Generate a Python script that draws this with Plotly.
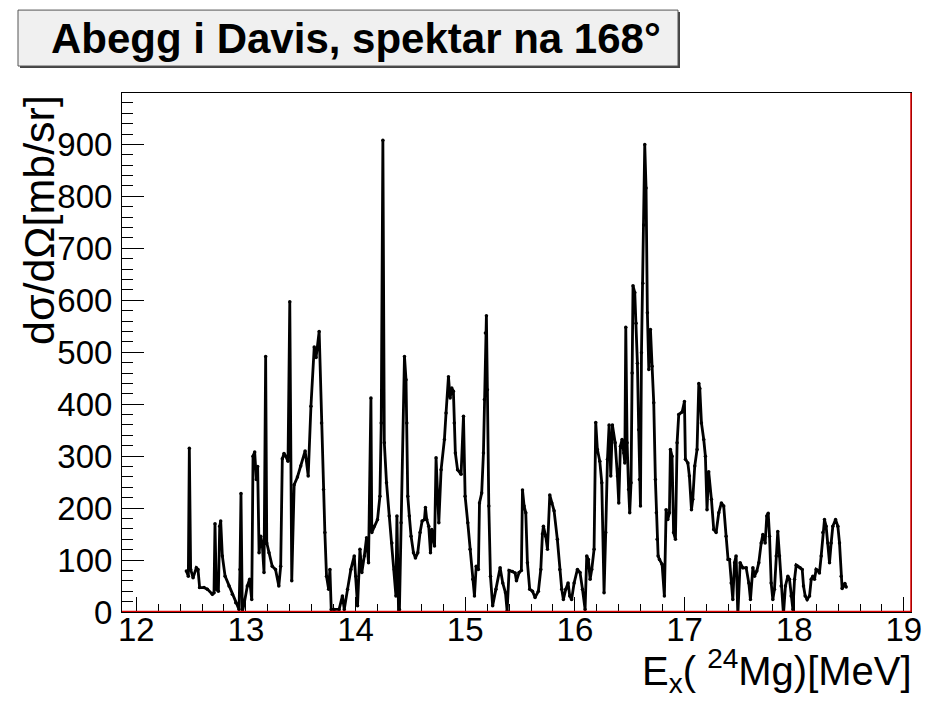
import plotly.graph_objects as go

# ---- data ----
energy = [
    12.457, 12.475, 12.484, 12.496, 12.518, 12.548, 12.563, 12.578, 12.618, 12.648,
    12.694, 12.709, 12.718, 12.73, 12.749, 12.761, 12.77, 12.785, 12.81, 12.846,
    12.876, 12.907, 12.937, 12.946, 12.955, 12.967, 12.983, 13.013, 13.034, 13.053,
    13.065, 13.08, 13.095, 13.107, 13.12, 13.135, 13.15, 13.165, 13.18, 13.19,
    13.21, 13.24, 13.27, 13.30, 13.317, 13.332, 13.347, 13.363, 13.384, 13.40,
    13.418, 13.44, 13.47, 13.50, 13.54, 13.568, 13.593, 13.623, 13.64, 13.668,
    13.69, 13.708, 13.72, 13.735, 13.754, 13.766, 13.778, 13.805, 13.85, 13.88,
    13.897, 13.927, 13.957, 13.988, 14.003, 14.018, 14.04, 14.057, 14.08, 14.1,
    14.118, 14.14, 14.148, 14.17, 14.2, 14.222, 14.234, 14.249, 14.262, 14.282,
    14.307, 14.331, 14.353, 14.368, 14.377, 14.392,
    14.40, 14.415, 14.446, 14.46, 14.467, 14.476, 14.49, 14.506, 14.528, 14.546,
    14.567, 14.588, 14.607, 14.628, 14.637, 14.649, 14.667, 14.683, 14.695, 14.72,
    14.734, 14.759, 14.78, 14.81, 14.825, 14.847, 14.862, 14.877, 14.892, 14.90,
    14.91, 14.93, 14.962, 14.984, 14.999, 15.023, 15.044, 15.069, 15.084, 15.10,
    15.12, 15.13, 15.15, 15.166, 15.175, 15.184, 15.193, 15.202, 15.215, 15.23,
    15.25, 15.28, 15.318, 15.342, 15.367, 15.382,
    15.40, 15.43, 15.455, 15.467, 15.491, 15.512, 15.522, 15.537, 15.552, 15.567,
    15.588, 15.613, 15.637, 15.667, 15.689, 15.704, 15.713, 15.734, 15.75, 15.771,
    15.789, 15.81, 15.84, 15.862, 15.88, 15.895, 15.917, 15.938, 15.953, 15.97,
    15.993, 16.023, 16.047, 16.069, 16.093, 16.108, 16.123, 16.139, 16.154, 16.175,
    16.19, 16.205, 16.227, 16.245, 16.266, 16.281, 16.297, 16.312, 16.327, 16.342,
    16.367, 16.388,
    16.40, 16.415, 16.43, 16.446, 16.455, 16.464, 16.476, 16.49, 16.50, 16.512,
    16.522, 16.53, 16.546, 16.558, 16.57, 16.582, 16.589, 16.598, 16.607, 16.619,
    16.628, 16.637, 16.649, 16.661, 16.674, 16.689, 16.704, 16.719, 16.734, 16.743,
    16.75, 16.759, 16.771, 16.795, 16.816, 16.832, 16.847, 16.862, 16.871, 16.886,
    16.90, 16.917, 16.932, 16.947, 16.978, 16.999, 17.008, 17.03, 17.044, 17.063,
    17.075, 17.093, 17.114, 17.13, 17.139, 17.154, 17.175, 17.19, 17.205, 17.22,
    17.245, 17.266, 17.288, 17.312, 17.336, 17.357, 17.379, 17.397,
    17.41, 17.425, 17.44, 17.456, 17.47, 17.486, 17.507, 17.532, 17.562, 17.586,
    17.601, 17.623, 17.638, 17.659, 17.677, 17.699, 17.714, 17.735, 17.75, 17.763,
    17.775, 17.79, 17.805, 17.82, 17.836, 17.85, 17.866, 17.881, 17.902, 17.92,
    17.942, 17.957, 17.972, 17.988, 18.003, 18.018, 18.033, 18.054, 18.073, 18.085,
    18.10, 18.118, 18.14, 18.155, 18.17, 18.185, 18.20, 18.215, 18.23, 18.246,
    18.261, 18.276, 18.291, 18.307, 18.322, 18.337, 18.352, 18.377, 18.398, 18.413,
    18.428, 18.437, 18.45, 18.462, 18.474,
]
sigma = [
    79, 69, 315, 82, 66, 85, 82, 47, 47, 44,
    34, 37, 170, 44, 40, 165, 175, 108, 69, 50,
    34, 18, 5, 82, 228, 0, 15, 50, 63, 24,
    300, 308, 255, 280, 114, 146, 127, 76, 492, 133,
    114, 88, 82, 50, 88, 295, 305, 300, 290, 597,
    60, 245, 260, 281, 310, 262, 396, 510, 490, 540,
    364, 236, 153, 69, 44, 82, 5, 5, 5, 31,
    5, 44, 82, 108, 69, 12, 121, 76, 108, 143,
    95, 412, 153, 165, 178, 223, 364, 908, 326, 249,
    185, 133, 82, 31, 185, 0,
    5, 172, 492, 447, 364, 223, 185, 146, 114, 104,
    114, 153, 175, 178, 201, 178, 165, 114, 159, 127,
    297, 172, 274, 332, 383, 453, 412, 431, 425, 364,
    306, 274, 265, 377, 223, 172, 121, 63, 31, 88,
    82, 210, 229, 306, 409, 537, 570, 428, 204, 69,
    12, 44, 85, 56, 37, 2,
    80, 78, 75, 60, 76, 80, 235, 204, 191, 95,
    44, 40, 28, 40, 82, 150, 165, 146, 121, 225,
    210, 195, 140, 82, 44, 24, 44, 56, 31, 24,
    56, 82, 76, 44, 5, 108, 101, 63, 82, 121,
    365, 313, 290, 249, 37, 153, 294, 360, 262, 360,
    326, 262,
    210, 319, 332, 306, 287, 548, 326, 236, 191, 249,
    460, 628, 615, 556, 479, 351, 255, 204, 499, 633,
    745, 900, 816, 576, 467, 544, 473, 403, 255, 191,
    140, 108, 101, 92, 31, 197, 178, 191, 313, 300,
    153, 140, 326, 380, 385, 405, 294, 287, 262, 197,
    217, 281, 313, 440, 430, 364, 332, 300, 197, 270,
    217, 159, 153, 191, 210, 204, 146, 101,
    101, 56, 24, 95, 108, -5, 95, 85, 85, 56,
    24, 85, 69, 79, 95, 133, 149, 133, 185, 190,
    146, 56, 24, 44, 108, 155, 108, 50, -5, 50,
    69, 63, 31, 5, 63, 90, 88, 85, 82, 50,
    31, 24, 31, 63, 69, 63, 82, 80, 75, 108,
    153, 178, 165, 133, 95, 133, 165, 178, 165, 133,
    69, 45, 50, 55, 48,
]

title_text = "Abegg i Davis, spektar na 168°"
y_title = "dσ/dΩ[mb/sr]"
x_title = "E<sub>x</sub>( <sup>24</sup>Mg)[MeV]"

W, H = 925, 708
L, R, T, B = 122, 911, 93, 612.5
FONT = "Liberation Sans, Arial, Helvetica, sans-serif"


def px(xp):  # screen x pixel -> paper
    return (xp - L) / (R - L)


def py(yp):  # screen y pixel -> paper
    return (B - yp) / (B - T)


fig = go.Figure()
fig.add_trace(go.Scatter(
    x=energy, y=sigma, mode="lines+markers",
    line=dict(color="black", width=2.8),
    marker=dict(color="black", size=3.5),
    showlegend=False,
))

fig.update_layout(
    width=W, height=H,
    margin=dict(l=L, r=W - R, t=T, b=H - B, pad=0),
    paper_bgcolor="white", plot_bgcolor="white",
    font=dict(family=FONT, color="black"),
    xaxis=dict(
        range=[11.87, 19.065], tickmode="linear", tick0=12, dtick=1,
        ticks="inside", ticklen=15, tickwidth=1, tickcolor="black",
        minor=dict(ticks="inside", dtick=0.2, tick0=12, ticklen=8, tickcolor="black", tickwidth=1),
        showgrid=False, zeroline=False, showline=True, linecolor="black",
        linewidth=1, mirror=True, automargin=False, ticklabeloverflow="allow",
        tickfont=dict(size=33, family=FONT), ticklabelstandoff=-12,
    ),
    yaxis=dict(
        range=[0, 999], tickmode="linear", tick0=0, dtick=100,
        ticks="inside", ticklen=22, tickwidth=1, tickcolor="black",
        minor=dict(ticks="inside", dtick=20, tick0=0, ticklen=11, tickcolor="black", tickwidth=1),
        showgrid=False, zeroline=False, showline=True, linecolor="black",
        linewidth=1, mirror=True, automargin=False,
        tickfont=dict(size=33, family=FONT), ticklabelstandoff=2,
    ),
)

shapes = [
    # red line along y=0
    dict(type="line", xref="paper", yref="y", x0=0, x1=1, y0=0, y1=0,
         line=dict(color="#e00000", width=2.5), layer="above"),
    # red right frame line
    dict(type="line", xref="paper", yref="paper", x0=1, x1=1, y0=0, y1=1,
         line=dict(color="#e00000", width=1.5), layer="above"),
    # title box shadow
    dict(type="rect", xref="paper", yref="paper",
         x0=px(20), x1=px(680), y0=py(68), y1=py(12),
         fillcolor="#444444", line=dict(width=0), layer="above"),
    # title box
    dict(type="rect", xref="paper", yref="paper",
         x0=px(18), x1=px(678), y0=py(66), y1=py(10),
         fillcolor="#f0f0f0", line=dict(color="#555555", width=1), layer="above"),
]
fig.update_layout(shapes=shapes)

fig.add_annotation(
    text="<b>" + title_text + "</b>", xref="paper", yref="paper",
    x=px(356), y=py(38), xanchor="center", yanchor="middle",
    showarrow=False, font=dict(size=42, family=FONT, color="black"),
)
fig.add_annotation(
    text=y_title, xref="paper", yref="paper",
    x=px(39), y=py(93), xanchor="center", yanchor="top", textangle=-90,
    showarrow=False, font=dict(size=43, family=FONT, color="black"),
)
fig.add_annotation(
    text=x_title, xref="paper", yref="paper",
    x=px(914), y=py(672), xanchor="right", yanchor="middle",
    showarrow=False, font=dict(size=40, family=FONT, color="black"),
)

# remove the default 8px body margin so the figure sits at the window origin
fig.write_html(
    "out.html",
    config={"displayModeBar": False},
    post_script="document.body.style.margin='0px';document.body.style.overflow='hidden';",
)
